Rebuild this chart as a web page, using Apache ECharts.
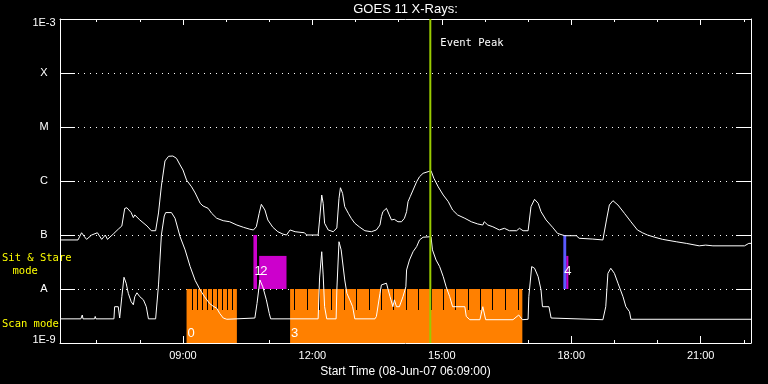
<!DOCTYPE html>
<html><head><meta charset="utf-8">
<script src="https://cdn.jsdelivr.net/npm/echarts@6/dist/echarts.min.js"></script>
<style>html,body{margin:0;padding:0;background:#000;}#c{width:768px;height:384px;}</style>
</head><body><div id="c"></div>
<script>
// ---------------- data ----------------
const titleText = 'GOES 11 X-Rays:';
const xAxisName = 'Start Time (08-Jun-07 06:09:00)';
const startTime = '06:09';
const endTime = '22:10';
const xTickHours = [9, 12, 15, 18, 21];
const xTickLabels = ['09:00', '12:00', '15:00', '18:00', '21:00'];
const yTickLabels = ['1E-9', 'A', 'B', 'C', 'M', 'X', '1E-3']; // 1e-9 .. 1e-3
const yMin = 1e-9, yMax = 1e-3;

// GOES long channel (1-8 A)
const longTimes = ['06:09','06:34','06:39','06:43','06:46','06:53','07:01','07:07','07:12','07:15','07:23','07:30','07:35','07:39','07:42','07:48','07:51','07:53','08:00','08:10','08:16','08:22','08:26','08:30','08:35','08:40','08:46','08:51','08:56','09:00','09:05','09:12','09:17','09:24','09:28','09:35','09:40','09:47','09:56','10:05','10:15','10:24','10:33','10:38','10:42','10:46','10:49','10:54','10:58','11:05','11:12','11:19','11:24','11:29','11:36','11:49','11:52','12:08','12:10','12:13','12:15','12:17','12:22','12:29','12:34','12:37','12:39','12:42','12:45','12:50','12:54','12:59','13:06','13:13','13:22','13:29','13:34','13:36','13:38','13:43','13:47','13:50','13:54','13:59','14:04','14:08','14:11','14:13','14:16','14:20','14:25','14:29','14:34','14:41','14:45','14:49','14:55','15:02','15:09','15:15','15:22','15:32','15:41','15:50','15:57','15:59','16:04','16:11','16:20','16:27','16:34','16:44','16:48','16:53','17:00','17:04','17:09','17:14','17:18','17:25','17:34','17:41','17:51','18:07','18:11','18:30','18:44','18:49','18:53','18:58','19:05','19:14','19:23','19:32','19:39','19:46','19:56','20:07','20:26','20:40','20:58','21:07','21:17','22:01','22:07','22:10'];
const longFlux = [8.1e-8,8.1e-8,1.1e-7,9.3e-8,8.3e-8,1.0e-7,1.1e-7,8.3e-8,1.0e-7,8.3e-8,1.04e-7,1.28e-7,1.47e-7,3.1e-7,3.2e-7,2.6e-7,2.1e-7,2.35e-7,1.9e-7,1.47e-7,1.2e-7,1.2e-7,2.56e-7,8.1e-7,2.35e-6,2.87e-6,2.9e-6,2.63e-6,1.98e-6,1.6e-6,1.04e-6,7.8e-7,6.0e-7,3.86e-7,3.44e-7,3.12e-7,2.52e-7,2.04e-7,1.84e-7,1.76e-7,1.53e-7,1.39e-7,1.28e-7,1.24e-7,1.42e-7,2.52e-7,3.7e-7,2.9e-7,1.9e-7,1.39e-7,1.15e-7,1.04e-7,1.0e-7,1.24e-7,1.15e-7,1.1e-7,1.0e-7,1.0e-7,1.9e-7,5.5e-7,3.86e-7,1.65e-7,1.24e-7,1.15e-7,1.35e-7,4.78e-7,7.5e-7,5.9e-7,3.34e-7,2.52e-7,2.04e-7,1.65e-7,1.39e-7,1.2e-7,1.15e-7,1.24e-7,1.53e-7,2.18e-7,2.7e-7,3.12e-7,2.35e-7,1.9e-7,1.95e-7,1.76e-7,1.76e-7,2.04e-7,2.7e-7,4.14e-7,5.12e-7,6.8e-7,9.7e-7,1.2e-6,1.39e-6,1.49e-6,1.55e-6,1.12e-6,7.8e-7,5.5e-7,4.14e-7,2.9e-7,2.35e-7,2.04e-7,1.76e-7,1.6e-7,1.53e-7,1.76e-7,1.53e-7,1.42e-7,1.24e-7,1.33e-7,1.2e-7,1.2e-7,1.33e-7,1.2e-7,1.2e-7,3.34e-7,4.58e-7,3.86e-7,2.7e-7,1.9e-7,1.39e-7,1.07e-7,9.7e-8,9.7e-8,8.7e-8,8.4e-8,8.1e-8,1.9e-7,3.59e-7,4.32e-7,3.59e-7,2.52e-7,1.76e-7,1.24e-7,1.1e-7,1.0e-7,9.1e-8,8.3e-8,7.5e-8,7.0e-8,6.3e-8,6.5e-8,6.3e-8,6.3e-8,7.0e-8,7.0e-8];

// GOES short channel (0.5-4 A)
const shortTimes = ['06:09','06:38','06:40','06:41','06:57','06:58','06:59','07:24','07:25','07:30','07:32','07:35','07:38','07:41','07:44','07:48','07:51','07:53','07:56','08:00','08:05','08:09','08:12','08:22','08:26','08:30','08:34','08:36','08:44','08:49','08:56','09:03','09:10','09:17','09:24','09:30','09:37','09:42','09:47','09:51','09:56','10:01','10:40','10:43','10:47','10:51','10:56','11:00','11:02','12:08','12:10','12:13','12:15','12:17','12:20','12:33','12:34','12:37','12:39','12:40','12:45','12:48','12:52','12:56','12:59','13:27','13:29','13:34','13:36','13:43','13:48','13:52','13:54','13:57','14:01','14:06','14:10','14:11','14:15','14:20','14:25','14:29','14:34','14:45','14:47','14:52','14:57','15:02','15:06','15:11','15:15','15:32','15:34','15:39','15:53','15:57','16:01','16:39','16:47','16:52','17:00','17:01','17:05','17:09','17:14','17:18','17:20','17:29','17:32','17:34','18:44','18:48','18:51','18:55','19:00','19:05','19:12','19:16','19:21','19:23','22:10'];
const shortFlux = [2.8e-9,2.8e-9,3.3e-9,2.8e-9,2.8e-9,3.1e-9,2.8e-9,2.8e-9,4.7e-9,4.7e-9,2.9e-9,7.2e-9,1.65e-8,1.28e-8,8.3e-9,5.8e-9,5.1e-9,7.2e-9,8.5e-9,7.2e-9,6.3e-9,4.7e-9,2.8e-9,2.8e-9,1.19e-8,1.0e-7,2.25e-7,2.6e-7,2.6e-7,2.04e-7,9.3e-8,5.3e-8,2.6e-8,1.44e-8,9.6e-9,7.2e-9,5.4e-9,4.8e-9,4.4e-9,3.55e-9,2.9e-9,2.75e-9,2.9e-9,5.4e-9,1.47e-8,1.1e-8,6.3e-9,3.55e-9,2.8e-9,2.8e-9,1.6e-8,4.9e-8,1.82e-8,4.7e-9,2.8e-9,2.8e-9,9.6e-9,7.5e-8,8.1e-8,5.3e-8,1.47e-8,8.3e-9,6.3e-9,4.7e-9,2.8e-9,2.8e-9,3.1e-9,8.3e-9,1.19e-8,1.28e-8,7.2e-9,4.7e-9,6.3e-9,4.7e-9,4.7e-9,7.2e-9,1.1e-8,2.25e-8,3.44e-8,4.9e-8,6.1e-8,8.1e-8,9.1e-8,9.3e-8,5.3e-8,3.44e-8,2.6e-8,1.69e-8,1.1e-8,7.2e-9,4.7e-9,4.7e-9,3.1e-9,2.7e-9,2.7e-9,4.7e-9,2.7e-9,2.7e-9,3.3e-9,2.7e-9,2.75e-9,7.2e-9,2.6e-8,2.42e-8,1.69e-8,9.6e-9,4.7e-9,4.7e-9,2.9e-9,2.7e-9,2.7e-9,4.7e-9,1.95e-8,2.42e-8,1.95e-8,1.28e-8,7.2e-9,4.7e-9,3.8e-9,2.75e-9,2.75e-9];

// Scan mode intervals
const scanStart = ['09:05', '11:29'];
const scanEnd = ['10:15', '16:52'];
const scanLabels = ['0', '3'];
const scanTop = 1e-8, scanBottom = 1e-9;
const scanGapTimes = ['09:13','09:20','09:27','09:34','09:41','09:48','09:55','10:02','10:09',
  '11:35','11:53','12:10','12:27','12:44','13:02','13:19','13:36','13:53','14:11','14:28','14:45','15:02','15:19','15:37','15:54','16:11','16:28','16:46'];
const scanGapBottom = 4.1e-9;

// Sit & Stare intervals
const sitStart = ['10:38', '10:46', '17:53'];
const sitEnd = ['10:43', '11:24', '17:56'];
const sitTop = [1e-7, 4.1e-8, 4.1e-8];
const sitLabels = ['1', '2', ''];
const sitBase = 1e-8;
// other pointing interval
const otherStart = ['17:49'];
const otherEnd = ['17:53'];
const otherTop = [1e-7];
const otherLabels = ['4'];

const eventTime = '14:44';
const eventLabel = 'Event Peak';

// ---------------- chart ----------------
const H = s => { const p = s.split(':').map(Number); return p[0] + p[1] / 60; };
const T0 = H(startTime), T1 = H(endTime);
const WHITE = '#ffffff', ORANGE = '#ff8000', MAGENTA = '#cc00cc', BLUE = '#5a5aff', GREEN = '#99cc00', YELLOW = '#ffff00';
const SANS = '"Liberation Sans", Arial, sans-serif';
const MONO = '"DejaVu Sans Mono", monospace';
const gridPos = { left: 60, right: 17, top: 19, bottom: 41 };

function xAxisDef(gridIndex, position, splitNumber, tickLen, withLabels, withLine) {
  return {
    type: 'value', gridIndex, position, min: T0, max: T1, splitNumber,
    axisLine: { show: withLine, onZero: false, lineStyle: { color: WHITE, width: 1 } },
    axisTick: { show: true, inside: true, length: tickLen, lineStyle: { color: WHITE, width: 1 } },
    axisLabel: withLabels ? {
      show: true, color: WHITE, fontFamily: SANS, fontSize: 11, margin: 7,
      showMinLabel: false, showMaxLabel: false,
      formatter: v => { const i = xTickHours.findIndex(h => Math.abs(h - v) < 1e-6); return i >= 0 ? xTickLabels[i] : ''; }
    } : { show: false },
    splitLine: { show: false },
    name: withLabels ? xAxisName : '',
    nameLocation: 'middle', nameGap: 18,
    nameTextStyle: { color: WHITE, fontFamily: SANS, fontSize: 12 }
  };
}

const yLabelFormatter = v => {
  const e = Math.round(Math.log10(v));
  const t = yTickLabels[e + 9];
  if (e === -3) return '{sp1|x}\n{lab|' + t + '}';
  if (e === -9) return '{lab|' + t + '}\n{sp2|x}';
  return t;
};

function yAxisDef(position, withLabels, withSplit) {
  return {
    type: 'log', logBase: 10, gridIndex: 0, position, min: yMin, max: yMax, splitNumber: 6,
    axisLine: { show: true, lineStyle: { color: WHITE, width: 1 } },
    axisTick: { show: true, inside: true, length: 15, lineStyle: { color: WHITE, width: 1 } },
    minorTick: { show: false },
    axisLabel: withLabels ? {
      show: true, color: WHITE, fontFamily: SANS, fontSize: 11, margin: 16, align: 'center',
      formatter: yLabelFormatter,
      rich: {
        lab: { color: WHITE, fontFamily: SANS, fontSize: 11, lineHeight: 12 },
        sp1: { color: 'rgba(0,0,0,0)', fontFamily: SANS, fontSize: 6, lineHeight: 8 },
        sp2: { color: 'rgba(0,0,0,0)', fontFamily: SANS, fontSize: 5, lineHeight: 6 }
      }
    } : { show: false },
    splitLine: { show: withSplit, lineStyle: { color: WHITE, width: 1, type: [1, 5] } }
  };
}

const scanData = scanStart.map((s, i) => [H(s), H(scanEnd[i]), scanTop, scanBottom]);
const gapData = scanGapTimes.map(t => [H(t), scanTop, scanGapBottom]);
const sitData = sitStart.map((s, i) => [H(s), H(sitEnd[i]), sitTop[i], sitBase]);
const otherData = otherStart.map((s, i) => [H(s), H(otherEnd[i]), otherTop[i], sitBase]);

function intervalRenderer(color, labels, labelOffset) {
  return function (params, api) {
    const a = api.coord([api.value(0), api.value(2)]);
    const b = api.coord([api.value(1), api.value(3)]);
    const children = [{
      type: 'rect',
      shape: { x: a[0], y: a[1], width: Math.max(1, b[0] - a[0]), height: b[1] - a[1] },
      style: { fill: color }
    }];
    const lab = labels[params.dataIndex];
    if (lab) {
      children.push({
        type: 'text', x: a[0] + 1, y: b[1] - labelOffset, z2: 10,
        style: { text: lab, fill: WHITE, font: '13px ' + SANS, align: 'left', verticalAlign: 'middle', textAlign: 'left', textVerticalAlign: 'middle' }
      });
    }
    return { type: 'group', children };
  };
}

const option = {
  backgroundColor: '#000000',
  animation: false,
  grid: [Object.assign({}, gridPos), Object.assign({}, gridPos)],
  xAxis: [
    xAxisDef(0, 'bottom', 5, 7, true, true),
    xAxisDef(0, 'top', 5, 6, false, true),
    xAxisDef(1, 'bottom', 16, 3, false, false),
    xAxisDef(1, 'top', 16, 3, false, false)
  ],
  yAxis: [
    yAxisDef('left', true, true),
    yAxisDef('right', false, false),
    { type: 'value', gridIndex: 1, show: false, min: 0, max: 1 }
  ],
  graphic: [
    { type: 'text', x: 405.5, y: 9, style: { text: titleText, fill: WHITE, font: '13px ' + SANS, align: 'center', verticalAlign: 'middle', textAlign: 'center', textVerticalAlign: 'middle' } },
    { type: 'text', x: 2, y: 258.5, style: { text: 'Sit & Stare', fill: YELLOW, font: '10.5px ' + MONO, verticalAlign: 'middle', textVerticalAlign: 'middle' } },
    { type: 'text', x: 12.5, y: 271, style: { text: 'mode', fill: YELLOW, font: '10.5px ' + MONO, verticalAlign: 'middle', textVerticalAlign: 'middle' } },
    { type: 'text', x: 2, y: 324, style: { text: 'Scan mode', fill: YELLOW, font: '10.5px ' + MONO, verticalAlign: 'middle', textVerticalAlign: 'middle' } }
  ],
  series: [
    {
      type: 'custom', name: 'Scan mode', xAxisIndex: 0, yAxisIndex: 0, silent: true, z: 2,
      encode: { x: [0, 1], y: [2, 3] },
      data: scanData, renderItem: intervalRenderer(ORANGE, scanLabels, 10)
    },
    {
      type: 'custom', name: 'Scan frames', xAxisIndex: 0, yAxisIndex: 0, silent: true, z: 3,
      encode: { x: 0, y: [1, 2] },
      data: gapData,
      renderItem: function (params, api) {
        const a = api.coord([api.value(0), api.value(1)]);
        const b = api.coord([api.value(0), api.value(2)]);
        return { type: 'rect', shape: { x: Math.floor(a[0]), y: a[1], width: 1, height: b[1] - a[1] }, style: { fill: '#000000' } };
      }
    },
    {
      type: 'custom', name: 'Sit & Stare', xAxisIndex: 0, yAxisIndex: 0, silent: true, z: 2,
      encode: { x: [0, 1], y: [2, 3] },
      data: sitData, renderItem: intervalRenderer(MAGENTA, sitLabels, 18)
    },
    {
      type: 'custom', name: 'Other', xAxisIndex: 0, yAxisIndex: 0, silent: true, z: 2,
      encode: { x: [0, 1], y: [2, 3] },
      data: otherData, renderItem: intervalRenderer(BLUE, otherLabels, 18)
    },
    {
      type: 'line', name: 'Long', xAxisIndex: 0, yAxisIndex: 0, silent: true, z: 4,
      data: longTimes.map((t, i) => [H(t), longFlux[i]]),
      showSymbol: false, symbol: 'none', lineStyle: { color: WHITE, width: 1 }
    },
    {
      type: 'line', name: 'Short', xAxisIndex: 0, yAxisIndex: 0, silent: true, z: 4,
      data: shortTimes.map((t, i) => [H(t), shortFlux[i]]),
      showSymbol: false, symbol: 'none', lineStyle: { color: WHITE, width: 1 }
    },
    {
      type: 'line', name: 'ticks', xAxisIndex: 2, yAxisIndex: 2, silent: true, data: [], showSymbol: false
    },
    {
      type: 'custom', name: 'Event', xAxisIndex: 0, yAxisIndex: 0, silent: true, z: 5,
      encode: { x: 0, y: [1, 2] },
      data: [[H(eventTime), yMin, yMax]],
      renderItem: function (params, api) {
        const a = api.coord([api.value(0), api.value(1)]);
        const b = api.coord([api.value(0), api.value(2)]);
        return {
          type: 'group', children: [
            { type: 'line', shape: { x1: a[0], y1: a[1], x2: b[0], y2: b[1] }, style: { stroke: GREEN, lineWidth: 2 } },
            { type: 'text', x: a[0] + 10, y: b[1] + 24, style: { text: eventLabel, fill: WHITE, font: '10.5px ' + MONO, verticalAlign: 'middle', textVerticalAlign: 'middle' } }
          ]
        };
      }
    }
  ]
};

const chart = echarts.init(document.getElementById('c'), null, { renderer: 'canvas' });
chart.setOption(option);
</script>
</body></html>
